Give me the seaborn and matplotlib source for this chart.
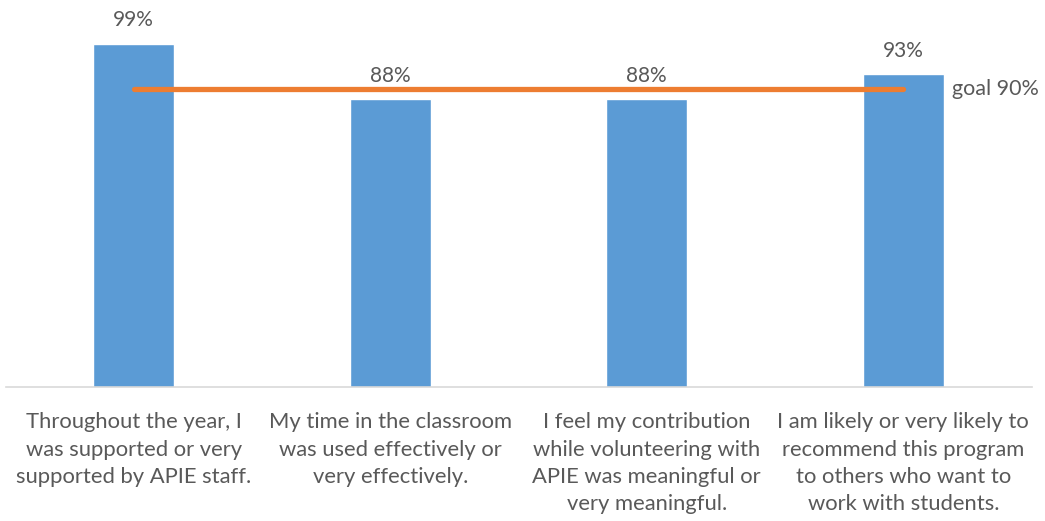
import matplotlib
matplotlib.use("Agg")
import matplotlib.pyplot as plt
import seaborn as sns
import pandas as pd

categories = [
    "Throughout the year, I\nwas supported or very\nsupported by APIE staff.",
    "My time in the classroom\nwas used effectively or\nvery effectively.",
    "I feel my contribution\nwhile volunteering with\nAPIE was meaningful or\nvery meaningful.",
    "I am likely or very likely to\nrecommend this program\nto others who want to\nwork with students.",
]
values = [99, 88, 88, 93]
goal = 90
goal_label = "goal 90%"

sns.set_theme(style="white")
plt.rcParams['font.family'] = ['Lato', 'DejaVu Sans']

df = pd.DataFrame({"cat": categories, "val": values})

W, H = 1045, 521
fig = plt.figure(figsize=(W / 100, H / 100), dpi=100)
left, right, top, bottom = 5.5, 1031.5, 0, 387.3
ax = fig.add_axes([left / W, 1 - bottom / H, (right - left) / W, (bottom - top) / H])

sns.barplot(data=df, x="cat", y="val", ax=ax, color="#5B9BD5", width=0.315, saturation=1)
ax.set_ylim(30.75, 107.75)
ax.set_xlim(-0.5, 3.5)

ax.plot([0, len(values) - 1], [goal, goal], color="#ED7D31", linewidth=3.8,
        solid_capstyle="round", zorder=5)
ax.text(3.19, goal, goal_label, va="center", ha="left", fontsize=15.5, color="#595959")

for i, v in enumerate(values):
    ax.annotate(f"{v}%", (i, v), xytext=(0, 17), textcoords="offset points",
                ha="center", va="center", fontsize=15, color="#595959")

ax.set_xlabel("")
ax.set_ylabel("")
ax.set_yticks([])
ax.tick_params(axis="x", length=0, pad=18, labelsize=15.8, labelcolor="#595959")
for lbl in ax.get_xticklabels():
    lbl.set_linespacing(1.45)
    lbl.set_va("top")
for s in ["top", "left", "right"]:
    ax.spines[s].set_visible(False)
ax.spines["bottom"].set_color("#D9D9D9")
ax.spines["bottom"].set_linewidth(1.2)

fig.savefig("out.png", dpi=100)
